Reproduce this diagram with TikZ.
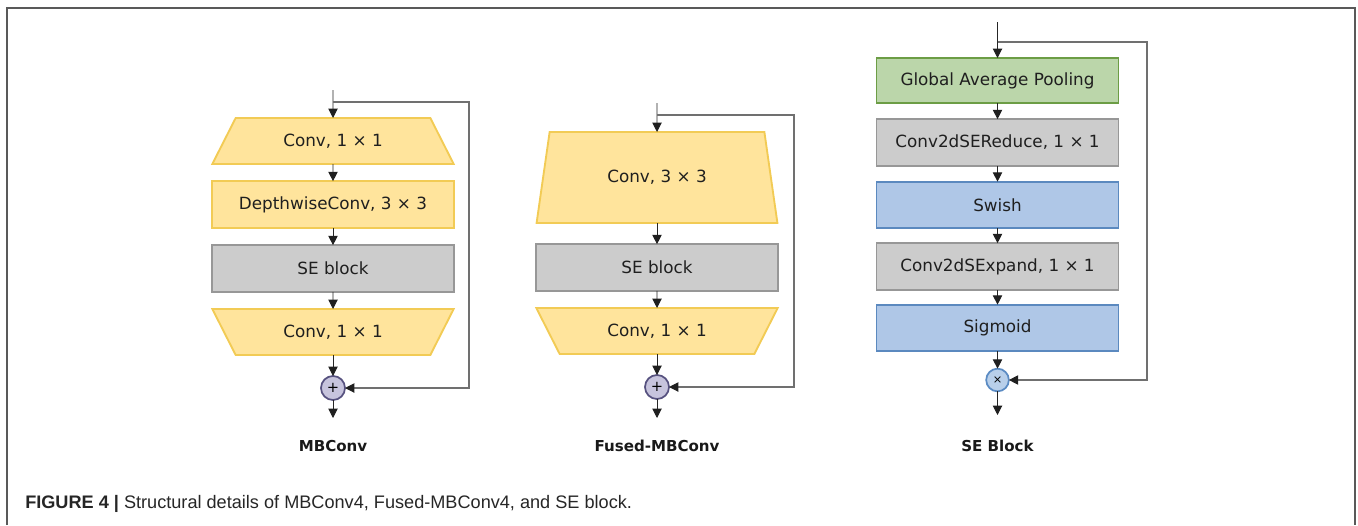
\documentclass[tikz,border=0pt]{standalone}
\usepackage{fontspec}
\setmainfont{DejaVu Sans}
\newfontfamily\capfont{Liberation Sans}
\usetikzlibrary{arrows.meta,shapes.geometric}

\definecolor{yfill}{HTML}{FFE49C}
\definecolor{ydraw}{HTML}{F2CB55}
\definecolor{gfill}{HTML}{CCCCCC}
\definecolor{gdraw}{HTML}{979797}
\definecolor{grfill}{HTML}{BBD6AA}
\definecolor{grdraw}{HTML}{6C9D45}
\definecolor{bfill}{HTML}{AFC7E7}
\definecolor{bdraw}{HTML}{5B89BF}
\definecolor{pfill}{HTML}{C7C4DD}
\definecolor{pdraw}{HTML}{56517F}
\definecolor{xfill}{HTML}{B8CFEA}
\definecolor{xdraw}{HTML}{5B8BC3}
\definecolor{fbline}{HTML}{707070}

\tikzset{
  boxfont/.style={font=\fontsize{12.6}{15}\selectfont, text=black!88},
  layer/.style={boxfont, rectangle, minimum width=181.5pt, minimum height=35pt,
    inner sep=0pt, outer sep=0pt, line width=1.4pt},
  yellowbox/.style={layer, fill=yfill, draw=ydraw},
  graybox/.style={layer, fill=gfill, draw=gdraw},
  greenbox/.style={layer, fill=grfill, draw=grdraw},
  bluebox/.style={layer, fill=bfill, draw=bdraw},
  trap/.style={boxfont, trapezium, trapezium stretches=true, fill=yfill, draw=ydraw,
    line width=1.4pt, inner sep=0pt, outer sep=0pt, minimum width=181.5pt},
  addop/.style={circle, minimum size=18pt, inner sep=0pt, outer sep=0pt,
    fill=pfill, draw=pdraw, line width=1.3pt, font=\fontsize{11}{11}\selectfont},
  mulop/.style={circle, minimum size=17pt, inner sep=0pt, outer sep=0pt,
    fill=xfill, draw=xdraw, line width=1.3pt, font=\fontsize{8.5}{8.5}\selectfont},
  tip/.tip={Triangle[length=7pt,width=7pt,color=black!88]},
  arr/.style={draw=black!85, line width=0.7pt, -tip},
  skip/.style={draw=fbline, line width=0.8pt, -tip},
  title/.style={font=\fontsize{11.3}{13}\selectfont\bfseries, text=black!90},
}

\begin{document}
\begin{tikzpicture}[x=0.75pt, y=-0.75pt]
\useasboundingbox (0,0) rectangle (1358,525);

% outer frame (open at the bottom)
\draw[line width=1.1pt, draw=black!65] (7,525) -- (7,8) -- (1355,8) -- (1355,525);

% ---------------- MBConv ----------------
\coordinate (mbin) at (333,90);
\coordinate (mbsplit) at (333,102);
\coordinate (mbturn) at (469,102);
\node[trap, minimum height=34.5pt, trapezium left angle=50.4, trapezium right angle=50.4]
  (mbexp) at (333,141) {Conv, 1 × 1};
\node[yellowbox] (mbdw) at (333,204.5) {DepthwiseConv, 3 × 3};
\node[graybox] (mbse) at (333,268.5) {SE block};
\node[trap, minimum height=34.5pt, trapezium left angle=50.4, trapezium right angle=50.4,
  shape border rotate=180] (mbproj) at (333,332) {Conv, 1 × 1};
\node[addop] (mbadd) at (333,388) {+};
\coordinate (mbout) at (333,418);
\node[title] (mbtitle) at (333,446) {MBConv};

\draw[arr] (mbin) -- (mbexp);
\draw[arr] (mbexp) -- (mbdw);
\draw[arr] (mbdw) -- (mbse);
\draw[arr] (mbse) -- (mbproj);
\draw[arr] (mbproj) -- (mbadd);
\draw[arr] (mbadd) -- (mbout);
\draw[skip] (mbsplit) -- (mbturn) |- (mbadd);

% ---------------- Fused-MBConv ----------------
\coordinate (fin) at (657,103);
\coordinate (fsplit) at (657,115);
\coordinate (fturn) at (794,115);
\node[trap, minimum height=68.25pt, trapezium left angle=67.3, trapezium right angle=67.3]
  (fexp) at (657,177.5) {Conv, 3 × 3};
\node[graybox] (fse) at (657,267.5) {SE block};
\node[trap, minimum height=34.5pt, trapezium left angle=50.4, trapezium right angle=50.4,
  shape border rotate=180] (fproj) at (657,331) {Conv, 1 × 1};
\node[addop] (fadd) at (657,387) {+};
\coordinate (fout) at (657,418);
\node[title] (ftitle) at (657,446) {Fused-MBConv};

\draw[arr] (fin) -- (fexp);
\draw[arr] (fexp) -- (fse);
\draw[arr] (fse) -- (fproj);
\draw[arr] (fproj) -- (fadd);
\draw[arr] (fadd) -- (fout);
\draw[skip] (fsplit) -- (fturn) |- (fadd);

% ---------------- SE Block ----------------
\coordinate (sin) at (997.5,22);
\coordinate (ssplit) at (997.5,42);
\coordinate (sturn) at (1147,42);
\node[greenbox, minimum height=33.75pt] (sgap) at (997.5,80.5) {Global Average Pooling};
\node[graybox] (sred) at (997.5,142.5) {Conv2dSEReduce, 1 × 1};
\node[bluebox] (sswish) at (997.5,205) {Swish};
\node[graybox] (sexp) at (997.5,266.5) {Conv2dSExpand, 1 × 1};
\node[bluebox] (ssig) at (997.5,328) {Sigmoid};
\node[mulop] (smul) at (997.5,380) {×};
\coordinate (sout) at (997.5,415);
\node[title] (stitle) at (997.5,446) {SE Block};

\draw[arr] (sin) -- (sgap);
\draw[arr] (sgap) -- (sred);
\draw[arr] (sred) -- (sswish);
\draw[arr] (sswish) -- (sexp);
\draw[arr] (sexp) -- (ssig);
\draw[arr] (ssig) -- (smul);
\draw[arr] (smul) -- (sout);
\draw[skip] (ssplit) -- (sturn) |- (smul);

% ---------------- caption ----------------
\node[anchor=base west, inner sep=0pt, text=black!85,
  font=\capfont\fontsize{13.6}{15}\selectfont] (caption) at (25,508)
  {\textbf{FIGURE 4 |} Structural details of MBConv4, Fused-MBConv4, and SE block.};
\end{tikzpicture}
\end{document}
